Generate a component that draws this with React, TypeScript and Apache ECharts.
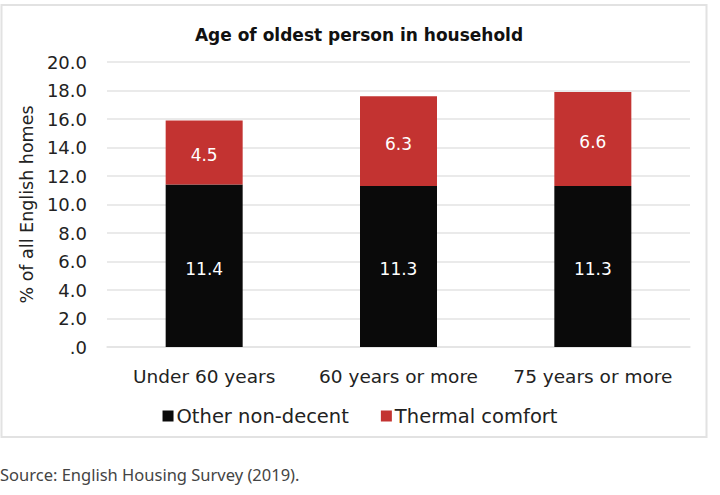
import React, { useEffect, useRef } from "react";
import * as echarts from "echarts";

const categories = ["Under 60 years", "60 years or more", "75 years or more"];
const otherNonDecent = [11.4, 11.3, 11.3];
const thermalComfort = [4.5, 6.3, 6.6];
const seriesNames = ["Other non-decent", "Thermal comfort"];
const chartTitle = "Age of oldest person in household";
const yAxisTitle = "% of all English homes";
const sourceText = "Source: English Housing Survey (2019).";

const FONT = "'DejaVu Sans', 'Noto Sans', sans-serif";
const SRC_FONT = "'Noto Sans', 'Open Sans', sans-serif";

export default function App() {
  const ref = useRef<HTMLDivElement>(null);
  useEffect(() => {
    if (!ref.current) return;
    const chart = echarts.init(ref.current, null, { renderer: "svg" });
    const dataLabel = {
      show: true,
      position: "inside",
      color: "#ffffff",
      fontSize: 17,
      fontFamily: FONT,
      offset: [0, 3],
      formatter: (p: any) => p.value.toFixed(1),
    };
    chart.setOption({
      animation: false,
      backgroundColor: "#ffffff",
      textStyle: { fontFamily: FONT },
      title: {
        text: chartTitle,
        left: 354,
        textAlign: "center",
        top: 21,
        textStyle: { fontSize: 17, fontWeight: "bold", color: "#111", fontFamily: FONT },
      },
      legend: {
        data: seriesNames,
        top: 401,
        left: "center",
        itemWidth: 11,
        itemHeight: 11,
        itemGap: 32,
        icon: "rect",
        textStyle: { fontSize: 19.5, color: "#222", fontFamily: FONT, padding: [0, 0, 0, -2] },
      },
      grid: { left: 107, right: 30, top: 62, bottom: 148, containLabel: false },
      xAxis: {
        type: "category",
        data: categories,
        axisLine: { show: true, lineStyle: { color: "#e3e3e3", width: 1.5 } },
        axisTick: { show: false },
        axisLabel: {
          fontSize: 18.5,
          color: "#222",
          margin: 20,
          fontFamily: FONT,
          interval: 0,
          hideOverlap: false,
        },
      },
      yAxis: {
        type: "value",
        min: 0,
        max: 20,
        interval: 2,
        name: yAxisTitle,
        nameLocation: "middle",
        nameGap: 60,
        nameTextStyle: { fontSize: 17.5, color: "#222", fontFamily: FONT },
        axisLine: { show: false },
        axisTick: { show: false },
        splitLine: { lineStyle: { color: "#e3e3e3", width: 1.5 } },
        axisLabel: {
          fontSize: 18,
          color: "#222",
          margin: 20,
          fontFamily: FONT,
          formatter: (v: number) => (v === 0 ? ".0" : v.toFixed(1)),
        },
      },
      series: [
        {
          name: seriesNames[0],
          type: "bar",
          stack: "total",
          data: otherNonDecent,
          barWidth: 77,
          itemStyle: { color: "#0a0a0a" },
          label: dataLabel,
        },
        {
          name: seriesNames[1],
          type: "bar",
          stack: "total",
          data: thermalComfort,
          barWidth: 77,
          itemStyle: { color: "#c33331" },
          label: dataLabel,
        },
      ],
      graphic: [
        {
          type: "rect",
          shape: { x: 1.5, y: 5, width: 705, height: 432 },
          style: { fill: "none", stroke: "#e2e2e2", lineWidth: 2 },
          silent: true,
        },
        {
          type: "text",
          left: 0,
          top: 466,
          style: { text: sourceText, fontSize: 16.5, fill: "#444", fontFamily: SRC_FONT },
        },
      ],
    });
    return () => chart.dispose();
  }, []);
  return (
    <div
      ref={ref}
      style={{ position: "fixed", left: 0, top: 0, width: 720, height: 495 }}
    />
  );
}
